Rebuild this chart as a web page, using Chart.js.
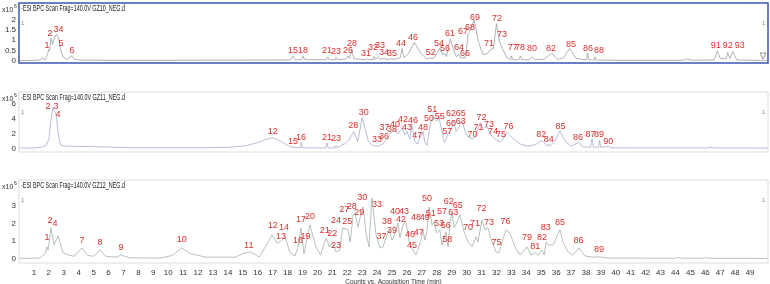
<!DOCTYPE html>
<html>
<head>
<meta charset="utf-8">
<script src="https://cdn.jsdelivr.net/npm/chart.js@4.4.1/dist/chart.umd.min.js"></script>
<style>
  body { margin: 0; background: #fff; width: 770px; height: 284px; overflow: hidden; position: relative; }
  canvas { position: absolute; left: 0; }
</style>
</head>
<body>
<canvas id="gz10Chart" width="770" height="90" style="top:0px"></canvas>
<canvas id="gz11Chart" width="770" height="88" style="top:90px"></canvas>
<canvas id="gz12Chart" width="770" height="109" style="top:178px"></canvas>
<script>
// BPC chromatograms, intensity in x10^6 counts vs acquisition time (min)

const timeTicks = [1,2,3,4,5,6,7,8,9,10,11,12,13,14,15,16,17,18,19,20,21,22,23,24,25,26,27,28,29,30,31,32,33,34,35,36,37,38,39,40,41,42,43,44,45,46,47,48,49];

// GZ10
const gz10Ticks = [0, 0.5, 1, 1.5, 2];
const gz10Time = [0,1.0,1.4,1.6,1.75,1.9,2.0,2.05,2.14,2.25,2.4,2.55,2.68,2.8,2.95,3.2,3.45,3.55,3.7,4.0,6,10,15,18.2,18.36,18.5,18.95,19.03,19.15,20.6,20.7,20.8,21.2,21.25,21.35,21.95,22.05,22.15,22.3,22.45,23.2,23.3,23.4,23.75,23.8,23.9,24.1,24.2,24.5,24.6,24.9,25.2,25.55,25.67,25.8,26.1,26.5,26.9,27.3,27.6,27.8,28.2,28.4,28.55,28.65,28.9,29.1,29.3,29.5,29.6,29.9,30.0,30.1,30.2,30.5,30.8,31.1,31.4,31.6,31.8,32.0,32.2,32.4,32.7,32.95,33.0,33.1,33.5,33.6,33.7,34.2,34.4,34.6,35.2,35.7,36.1,36.5,36.9,37.3,37.8,38.05,38.1,38.2,38.55,38.6,38.7,40,44.5,44.8,45.1,46.6,46.8,47.0,47.4,47.5,47.65,47.85,48.1,49,50.2];
const gz10Signal = [0.02,0.02,0.05,0.14,0.05,0.3,0.55,0.5,1.1,0.8,1.2,1.28,1.0,0.5,0.2,0.08,0.2,0.24,0.08,0.04,0.03,0.03,0.04,0.05,0.24,0.06,0.06,0.24,0.06,0.06,0.2,0.06,0.06,0.17,0.06,0.1,0.24,0.12,0.55,0.1,0.06,0.12,0.06,0.07,0.22,0.07,0.2,0.07,0.14,0.06,0.1,0.08,0.15,0.6,0.15,0.35,0.9,0.4,0.1,0.14,0.12,0.6,0.3,0.35,0.2,1.07,0.6,0.2,0.3,0.15,0.14,0.6,1.28,1.41,1.97,0.9,0.3,0.35,0.55,0.6,1.8,0.93,0.6,0.15,0.05,0.24,0.05,0.05,0.24,0.06,0.05,0.2,0.06,0.08,0.38,0.08,0.15,0.6,0.15,0.06,0.06,0.38,0.05,0.05,0.2,0.04,0.03,0.03,0.1,0.03,0.05,0.48,0.12,0.1,0.4,0.12,0.45,0.05,0.03,0.03];
const gz10PeakIds = ['1','2','3','4','5','6','15','18','21','23','26','28','31','32','33','34','35','44','46','52','54','56','61','64','66','67','68','69','71','72','73','77','78','80','82','85','86','88','91','92','93'];
const gz10PeakTime = [1.88,2.08,2.48,2.82,2.82,3.55,18.36,19.03,20.64,21.25,22.05,22.32,23.26,23.73,24.2,24.46,25.0,25.6,26.4,27.6,28.15,28.55,28.89,29.49,29.9,29.76,30.23,30.56,31.5,32.04,32.37,33.1,33.58,34.38,35.66,37.0,38.14,38.87,46.7,47.5,48.3];
const gz10PeakLevel = [0.72,1.34,1.52,1.52,0.83,0.48,0.52,0.52,0.48,0.45,0.52,0.86,0.38,0.66,0.72,0.41,0.34,0.86,1.14,0.41,0.86,0.62,1.34,0.66,0.34,1.41,1.59,2.1,0.83,2.03,1.28,0.66,0.66,0.62,0.59,0.79,0.59,0.48,0.76,0.72,0.72];

// GZ11
const gz11Ticks = [0, 2, 4, 6];
const gz11Time = [0,1.0,1.5,1.8,2.0,2.15,2.28,2.4,2.5,2.62,2.78,3.1,4.8,7.4,12,14,15.2,16.0,16.5,17.0,17.5,18.0,18.3,18.36,18.45,18.85,18.9,18.97,19.5,20.55,20.64,20.72,21.2,21.25,21.32,21.5,21.8,22.1,22.3,22.45,22.7,23.0,23.4,23.7,24.05,24.4,24.7,24.9,25.2,25.4,25.67,25.87,26.0,26.2,26.33,26.5,26.68,26.88,27.08,27.2,27.35,27.55,27.75,28.0,28.15,28.35,28.5,28.6,28.75,29.0,29.1,29.3,29.5,29.7,29.9,30.1,30.43,30.57,30.7,30.9,31.1,31.37,31.57,31.77,32.04,32.3,32.44,32.7,33.0,33.6,34.1,34.6,35.05,35.4,35.5,35.6,35.9,36.25,36.6,37.0,37.5,37.8,38.3,38.4,38.5,38.85,38.9,39.0,39.5,39.7,42,46.2,46.4,46.6,50.2];
const gz11Signal = [0.05,0.05,0.15,0.4,1.2,4.0,5.6,5.0,4.5,2.0,0.5,0.3,0.25,0.1,0.08,0.15,0.35,0.8,1.2,1.45,1.0,0.4,0.15,0.25,0.1,0.1,0.8,0.1,0.06,0.06,0.75,0.06,0.08,0.4,0.1,0.3,0.58,1.07,1.84,2.3,0.9,4.2,1.07,0.4,0.3,0.6,1.36,2.0,2.7,2.0,2.8,1.84,2.3,1.26,3.3,1.07,0.6,1.36,2.3,0.8,0.4,3.3,4.3,3.7,4.2,2.3,0.8,1.07,2.0,2.7,3.8,2.3,3.0,3.8,2.3,1.55,1.26,1.75,2.3,3.5,2.7,3.0,2.0,1.55,1.07,0.9,1.26,2.2,1.55,0.6,0.3,0.5,1.07,0.3,0.6,0.3,0.9,2.4,1.0,0.3,0.8,0.2,0.15,1.26,0.15,0.15,1.07,0.12,0.3,0.08,0.06,0.06,0.15,0.06,0.05];
const gz11PeakIds = ['2','3','4','12','15','16','21','23','28','30','33','36','37','38','40','42','43','46','47','48','50','51','55','57','60','62','63','65','70','71','72','73','74','75','76','82','84','85','86','87','89','90'];
const gz11PeakTime = [1.94,2.48,2.61,17.0,18.36,18.9,20.64,21.25,22.4,23.1,24.0,24.46,24.5,25.0,25.2,25.74,26.0,26.4,26.7,27.08,27.48,27.7,28.2,28.7,28.95,28.95,29.6,29.6,30.4,30.8,31.0,31.5,31.77,32.3,32.8,35.0,35.5,36.3,37.47,38.3,38.87,39.5];
const gz11PeakLevel = [5.7,5.7,4.56,2.33,0.97,1.45,1.45,1.36,3.1,4.85,1.26,1.65,2.8,2.5,3.2,3.9,2.8,3.8,1.75,2.9,4.0,5.25,4.4,2.33,3.4,4.75,3.7,4.75,1.94,2.8,4.2,3.2,2.33,1.94,3.0,1.84,1.26,3.0,1.45,1.94,1.84,0.97];

// GZ12
const gz12Ticks = [0, 1, 2, 3];
const gz12Time = [0,1.4,1.75,1.88,1.95,2.14,2.35,2.62,2.95,3.4,3.7,4.22,4.6,5.0,5.43,5.8,6.5,6.84,7.4,9.5,10.3,10.9,11.5,12.5,14.5,15.0,15.5,15.9,16.1,16.5,16.96,17.3,17.56,17.83,18.17,18.5,18.7,18.9,19.1,19.24,19.5,19.9,20.2,20.6,20.8,21.0,21.25,21.5,21.7,22.05,22.2,22.4,22.52,22.72,22.85,23.06,23.26,23.46,23.65,23.93,24.2,24.4,24.6,24.8,25.0,25.13,25.4,25.53,25.74,25.94,26.14,26.4,26.6,26.8,26.94,27.07,27.2,27.35,27.48,27.68,27.8,28.0,28.2,28.35,28.62,28.76,28.9,29.02,29.16,29.36,29.56,29.83,30.1,30.36,30.63,30.76,31.03,31.23,31.43,31.7,31.97,32.17,32.37,32.64,32.9,33.24,33.58,34.05,34.3,34.6,34.8,35.05,35.2,35.33,35.46,35.8,36.26,36.46,36.8,37.13,37.53,37.93,38.4,38.87,39.5,44,44.2,44.5,45.8,46.0,46.3,50.2];
const gz12Signal = [0.03,0.05,0.3,0.68,0.5,1.75,0.8,1.3,0.34,0.2,0.15,0.62,0.2,0.15,0.5,0.15,0.1,0.22,0.06,0.05,0.2,0.62,0.3,0.1,0.1,0.3,0.4,0.22,0.1,0.68,1.36,0.9,1.0,1.24,0.34,0.17,0.68,1.75,0.28,0.9,1.92,0.68,0.22,1.19,0.68,0.9,0.4,0.5,1.75,1.64,0.96,2.5,2.6,1.8,2.3,2.94,1.47,0.68,3.45,1.36,0.62,0.68,1.19,1.64,1.07,1.24,2.03,1.19,1.92,2.09,0.96,0.5,0.22,0.68,1.07,1.64,1.07,1.64,2.94,1.92,2.09,1.47,1.64,0.79,1.53,0.68,2.09,2.6,1.75,2.09,2.5,1.53,0.96,0.68,1.24,0.96,2.2,1.64,1.75,0.96,0.4,0.34,0.96,1.64,1.47,0.68,0.22,0.68,0.22,0.35,0.2,0.5,0.22,0.96,0.79,0.79,1.64,0.96,0.4,0.22,0.62,0.17,0.1,0.12,0.05,0.04,0.08,0.04,0.04,0.07,0.04,0.03];
const gz12PeakIds = ['1','2','4','7','8','9','10','11','12','13','14','16','17','19','20','21','22','23','24','25','27','28','29','30','33','37','38','39','40','42','43','45','46','47','48','49','50','51','53','56','57','58','62','63','65','70','71','72','73','75','76','79','81','82','83','85','86','89'];
const gz12PeakTime = [1.88,2.08,2.41,4.22,5.43,6.84,10.9,15.4,17.0,17.56,17.76,18.7,18.9,19.2,19.5,20.5,21.0,21.25,21.25,22.0,21.8,22.3,22.8,23.0,24.0,24.3,24.67,25.0,25.2,25.6,25.8,26.34,26.2,26.8,26.6,27.2,27.35,27.6,28.15,28.6,28.35,28.7,28.8,29.1,29.4,30.1,30.56,31.0,31.5,32.0,32.6,34.05,34.6,35.05,35.3,36.26,37.5,38.87];
const gz12PeakLevel = [1.19,2.15,1.98,1.02,0.9,0.62,1.07,0.73,1.86,1.24,1.75,1.02,2.2,1.24,2.37,1.58,1.41,0.73,2.15,2.09,2.77,2.94,2.6,3.45,3.05,1.24,2.09,1.58,2.66,2.2,2.66,0.73,1.36,1.47,2.32,2.32,3.4,2.54,1.98,1.86,2.66,1.07,3.22,2.6,3.0,1.75,1.98,2.83,2.03,0.9,2.09,1.19,0.68,1.19,1.75,2.03,1.02,0.51];

const FONT = '"Liberation Sans Narrow", "Liberation Sans", Arial, sans-serif';
const TEXT = '#333333';
const PEAK_RED = '#d8302c';

function drawSquashed(ctx, text, x, y, size, width, color) {
  ctx.save();
  ctx.font = size + 'px ' + FONT;
  const w = ctx.measureText(text).width;
  ctx.translate(x, y);
  ctx.scale(width / w, 1);
  ctx.fillStyle = color;
  ctx.textAlign = 'left';
  ctx.textBaseline = 'middle';
  ctx.fillText(text, 0, 0);
  ctx.restore();
}

function decorPlugin(panel) {
  return {
    id: 'decor_' + panel.name,
    afterDatasetsDraw(chart) {
      const ctx = chart.ctx;
      const area = chart.chartArea;
      const xs = chart.scales.x;
      const ys = chart.scales.y;

      // frame
      ctx.save();
      ctx.strokeStyle = panel.frameColor;
      ctx.lineWidth = panel.frameWidth;
      ctx.strokeRect(area.left, area.top, area.right - area.left, area.bottom - area.top);
      ctx.restore();

      // header text
      drawSquashed(ctx, '-ESI BPC Scan Frag=140.0V ' + panel.name + '_NEG.d', area.left + 2, area.top + 6, 8.5, 104, '#222');
      ctx.save();
      ctx.fillStyle = TEXT;
      ctx.textBaseline = 'middle';
      ctx.textAlign = 'left';
      ctx.font = '7px ' + FONT;
      ctx.fillText('x10', 2, area.top + 7);
      ctx.font = '5px ' + FONT;
      ctx.fillText('6', 14, area.top + 4);
      ctx.fillStyle = '#888';
      ctx.font = '6px ' + FONT;
      ctx.fillText('1', area.left + 2, area.top + 20);
      ctx.fillText('1', area.right - 6, area.top + 20);
      ctx.restore();

      if (panel.marker) {
        ctx.save();
        ctx.strokeStyle = '#777';
        ctx.lineWidth = 0.8;
        ctx.beginPath();
        ctx.moveTo(area.right - 8, area.bottom - 10);
        ctx.lineTo(area.right - 2, area.bottom - 10);
        ctx.lineTo(area.right - 5, area.bottom - 4);
        ctx.closePath();
        ctx.stroke();
        ctx.restore();
      }

      // peak numbers
      ctx.save();
      ctx.fillStyle = PEAK_RED;
      ctx.font = '9px ' + FONT;
      ctx.textAlign = 'center';
      ctx.textBaseline = 'middle';
      panel.peakIds.forEach((id, i) => {
        ctx.fillText(id, xs.getPixelForValue(panel.peakTime[i]), ys.getPixelForValue(panel.peakLevel[i]));
      });
      ctx.restore();
    }
  };
}

function makePanel(canvasId, panel) {
  const showAxis = !!panel.axisTitle;
  return new Chart(document.getElementById(canvasId), {
    type: 'line',
    data: {
      datasets: [{
        data: panel.time.map((t, i) => ({ x: t, y: panel.signal[i] })),
        borderColor: panel.lineColor,
        borderWidth: 0.8,
        pointRadius: 0,
        tension: 0,
        fill: false
      }]
    },
    options: {
      responsive: false,
      animation: false,
      devicePixelRatio: 1,
      layout: { padding: { top: panel.padTop, right: 2, bottom: showAxis ? 0 : panel.padBottom, left: 0 } },
      plugins: { legend: { display: false }, tooltip: { enabled: false } },
      scales: {
        x: {
          type: 'linear',
          min: 0,
          max: 50.2,
          display: showAxis,
          afterBuildTicks: s => { s.ticks = timeTicks.map(v => ({ value: v })); },
          afterFit: s => { s.height = 24; s.paddingLeft = 0; s.paddingRight = 0; },
          ticks: { autoSkip: false, maxRotation: 0, padding: 5, color: TEXT, font: { family: FONT, size: 8 } },
          grid: { display: false, drawTicks: false },
          border: { display: false },
          title: {
            display: showAxis,
            text: panel.axisTitle || '',
            color: TEXT,
            font: { family: FONT, size: 6.5 },
            padding: { top: 0, bottom: 1 }
          }
        },
        y: {
          type: 'linear',
          min: panel.yMin,
          max: panel.yMax,
          afterBuildTicks: s => { s.ticks = panel.yTicks.map(v => ({ value: v })); },
          afterFit: s => { s.width = 19; s.paddingTop = 0; s.paddingBottom = 0; },
          ticks: { padding: 3, color: TEXT, font: { family: FONT, size: 8 }, callback: v => String(v) },
          grid: { display: false, drawTicks: false },
          border: { display: false }
        }
      }
    },
    plugins: [decorPlugin(panel)]
  });
}

makePanel('gz10Chart', {
  name: 'GZ10', time: gz10Time, signal: gz10Signal, yTicks: gz10Ticks, yMin: -0.1, yMax: 2.79,
  peakIds: gz10PeakIds, peakTime: gz10PeakTime, peakLevel: gz10PeakLevel,
  lineColor: '#9a9fa8', frameColor: '#3d55b0', frameWidth: 1.5, padTop: 3, padBottom: 3, marker: true
});

makePanel('gz11Chart', {
  name: 'GZ11', time: gz11Time, signal: gz11Signal, yTicks: gz11Ticks, yMin: -0.49, yMax: 7.67,
  peakIds: gz11PeakIds, peakTime: gz11PeakTime, peakLevel: gz11PeakLevel,
  lineColor: '#a6acd0', frameColor: '#dcdcdc', frameWidth: 1, padTop: 2, padBottom: 2
});

makePanel('gz12Chart', {
  name: 'GZ12', time: gz12Time, signal: gz12Signal, yTicks: gz12Ticks, yMin: -0.23, yMax: 4.46,
  peakIds: gz12PeakIds, peakTime: gz12PeakTime, peakLevel: gz12PeakLevel,
  lineColor: '#a2b2a6', frameColor: '#dcdcdc', frameWidth: 1, padTop: 2, padBottom: 0,
  axisTitle: 'Counts vs. Acquisition Time (min)'
});
</script>
</body>
</html>
